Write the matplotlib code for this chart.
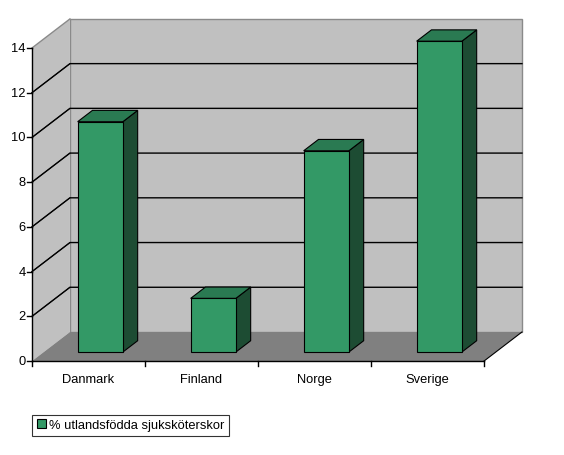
import matplotlib.pyplot as plt
from matplotlib.patches import Polygon

# data
countries = ['Danmark', 'Finland', 'Norge', 'Sverige']
values = [10.3, 2.4, 9.0, 13.9]
y_ticks = [0, 2, 4, 6, 8, 10, 12, 14]
series_label = '% utlandsfödda sjuksköterskor'

# 3d look (offsets of the full depth, in data units)
DX, DY = 0.336, 1.30
bar_w = 0.4
d0, d1 = 0.31, 0.70

front_col = '#339966'
top_col = '#2a7a52'
side_col = '#1d4c33'
wall_col = '#c0c0c0'
floor_col = '#808080'

plt.rcParams['font.family'] = ['Liberation Sans', 'DejaVu Sans']

fig = plt.figure(figsize=(5.64, 4.56), dpi=100)
ax = fig.add_axes([0, 0, 1, 1])
ax.set_xlim(-0.783, 4.208)
ax.set_ylim(-4.20, 16.19)
ax.axis('off')

x0, x1 = -0.5, len(countries) - 0.5
ymax = y_ticks[-1]

# back wall
ax.add_patch(Polygon([(x0 + DX, DY), (x1 + DX, DY), (x1 + DX, ymax + DY), (x0 + DX, ymax + DY)],
                     closed=True, fc=wall_col, ec='#8a8a8a', lw=1, zorder=1))
# side wall
ax.add_patch(Polygon([(x0, 0), (x0, ymax), (x0 + DX, ymax + DY), (x0 + DX, DY)],
                     closed=True, fc=wall_col, ec='none', zorder=1))
ax.plot([x0, x0 + DX], [ymax, ymax + DY], color='#8a8a8a', lw=1, zorder=2)
# floor
ax.add_patch(Polygon([(x0, 0), (x1, 0), (x1 + DX, DY), (x0 + DX, DY)],
                     closed=True, fc=floor_col, ec='none', zorder=2))
ax.plot([x1, x1 + DX], [0, DY], color='black', lw=0.8, zorder=3)

# gridlines
for t in y_ticks[1:-1]:
    ax.plot([x0, x0 + DX, x1 + DX], [t, t + DY, t + DY], color='black', lw=1, zorder=2)
    ax.plot([x0, x0 + DX], [t, t + DY], color='black', lw=0.6, zorder=2)

# axes lines and ticks
ax.plot([x0, x0], [0, ymax], color='black', lw=1, zorder=5)
ax.plot([x0, x1], [0, 0], color='black', lw=1, zorder=5)
for t in y_ticks:
    ax.plot([x0 - 0.04, x0], [t, t], color='black', lw=1, zorder=5)
    ax.text(x0 - 0.055, t, str(t), ha='right', va='center', fontsize=9.3)
for i in range(len(countries) + 1):
    ax.plot([x0 + i, x0 + i], [0, -0.2], color='black', lw=1, zorder=5)
for i, name in enumerate(countries):
    ax.text(i, -0.8, name, ha='center', va='center', fontsize=9.3)

# bars
handle = None
for i, v in enumerate(values):
    l = i - bar_w / 2
    r = i + bar_w / 2
    fx, fy = d0 * DX, d0 * DY
    bx, by = d1 * DX, d1 * DY
    side = Polygon([(r + fx, fy), (r + bx, by), (r + bx, v + by), (r + fx, v + fy)],
                   closed=True, fc=side_col, ec='black', lw=0.8, zorder=4)
    top = Polygon([(l + fx, v + fy), (r + fx, v + fy), (r + bx, v + by), (l + bx, v + by)],
                  closed=True, fc=top_col, ec='black', lw=0.8, zorder=4)
    front = Polygon([(l + fx, fy), (r + fx, fy), (r + fx, v + fy), (l + fx, v + fy)],
                    closed=True, fc=front_col, ec='black', lw=0.8, zorder=4)
    ax.add_patch(side)
    ax.add_patch(top)
    ax.add_patch(front)
    if handle is None:
        handle = front

leg = fig.legend([handle], [series_label], loc='lower left',
                 bbox_to_anchor=(32 / 564, 1 - 437 / 456), fontsize=9.3,
                 frameon=True, fancybox=False, handlelength=0.7, handleheight=0.7,
                 handletextpad=0.3, borderpad=0.35, borderaxespad=0)
leg.get_frame().set_edgecolor('black')
leg.get_frame().set_linewidth(0.8)

fig.savefig('out.png', dpi=100)
